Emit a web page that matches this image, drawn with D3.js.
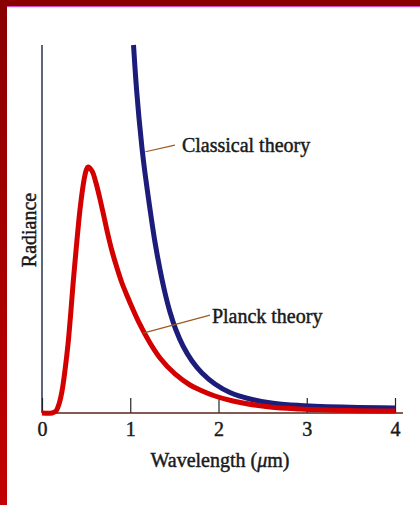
<!DOCTYPE html>
<html>
<head>
<meta charset="utf-8">
<script src="https://cdn.jsdelivr.net/npm/d3@7"></script>
<style>
  html, body { margin: 0; padding: 0; background: #fff; }
  svg { display: block; }
  text { font-family: "Liberation Serif", "Times New Roman", serif; fill: #1a1a1a; stroke: #1a1a1a; stroke-width: 0.45px; }
</style>
</head>
<body>
<svg id="chart" width="420" height="505"></svg>
<script>
// Wavelength (µm) and radiance (arbitrary units, 0–100 = axis height)
const planckX = [0, 0.113, 0.159, 0.193, 0.227, 0.261, 0.295, 0.323, 0.351, 0.385, 0.419, 0.442, 0.465, 0.487, 0.504, 0.521, 0.567, 0.612, 0.657, 0.703, 0.748, 0.793, 0.850, 0.906, 0.963, 1.031, 1.110, 1.224, 1.337, 1.507, 1.677, 1.790, 1.960, 2.164, 2.583, 2.924, 3.490, 4.0];
const planckY = [0, 0, 0.54, 2.45, 5.98, 11.68, 18.75, 26.36, 34.78, 44.02, 52.72, 57.61, 61.68, 64.67, 66.17, 66.85, 65.76, 62.5, 58.15, 53.26, 48.37, 44.02, 39.40, 35.33, 31.93, 28.13, 24.05, 19.02, 14.95, 10.60, 7.61, 6.25, 4.62, 3.26, 1.63, 1.09, 0.68, 0.54];
const classicalX = [1.037, 1.065, 1.099, 1.133, 1.167, 1.201, 1.235, 1.280, 1.337, 1.394, 1.450, 1.518, 1.598, 1.700, 1.813, 1.960, 2.130, 2.357, 2.640, 2.924, 3.490, 4.0];
const classicalY = [100, 89.95, 80.16, 72.01, 65.22, 59.24, 53.53, 46.47, 38.99, 32.61, 27.45, 22.55, 18.21, 14.13, 10.87, 7.88, 5.57, 3.80, 2.58, 2.04, 1.55, 1.36];
const xTicks = [0, 1, 2, 3, 4];
const labelNames = ["Classical theory", "Planck theory"];
// leader: start on curve (x,y), end (x,y), in data units
const leaderFromX = [1.172, 1.147];
const leaderFromY = [71.0, 21.7];
const leaderToX = [1.506, 1.903];
const leaderToY = [72.8, 26.6];
const labelX = [1.585, 1.925];
const labelY = [70.9, 24.5];

const svg = d3.select("#chart");
const W = 420, H = 505;

// frame
const defs = svg.append("defs");
const grad = defs.append("linearGradient").attr("id", "lb").attr("x1", 0).attr("y1", 0).attr("x2", 0).attr("y2", 1);
grad.append("stop").attr("offset", "0%").attr("stop-color", "#880000");
grad.append("stop").attr("offset", "100%").attr("stop-color", "#c40000");
svg.append("rect").attr("x", 0).attr("y", 0).attr("width", W).attr("height", H).attr("fill", "#fff");
svg.append("rect").attr("x", 0).attr("y", 0).attr("width", W).attr("height", 6).attr("fill", "#8a0000");
svg.append("rect").attr("x", 7).attr("y", 6).attr("width", W - 7).attr("height", 1.2).attr("fill", "#d050c8");
svg.append("rect").attr("x", 0).attr("y", 0).attr("width", 7).attr("height", H).attr("fill", "url(#lb)");

const x = d3.scaleLinear().domain([0, 4]).range([42, 395]);
const y = d3.scaleLinear().domain([0, 100]).range([413, 45]);

// x axis ticks and labels
const xAxis = d3.axisBottom(x).tickValues(xTicks).tickFormat(d3.format("d")).tickSize(-15).tickPadding(9);
const gx = svg.append("g").attr("transform", `translate(0,${y(0)})`).call(xAxis);
gx.select(".domain").remove();
gx.selectAll(".tick line").attr("stroke", "#2a2222").attr("stroke-width", 1.2);
gx.selectAll(".tick text").attr("font-size", 20).attr("font-family", "Liberation Serif, serif").attr("fill", "#1a1a1a");

// curves
const line = d3.line().x(d => x(d[0])).y(d => y(d[1])).curve(d3.curveCatmullRom.alpha(0.5));
const planck = planckX.map((v, i) => [v, planckY[i]]);
const classical = classicalX.map((v, i) => [v, classicalY[i]]);

// axis lines
svg.append("line").attr("x1", x(0)).attr("x2", x(4.09)).attr("y1", y(0)).attr("y2", y(0))
  .attr("stroke", "#5a2418").attr("stroke-width", 1.6);
svg.append("line").attr("x1", x(0)).attr("x2", x(0)).attr("y1", y(0)).attr("y2", y(100))
  .attr("stroke", "#1c2440").attr("stroke-width", 1.4);

svg.append("path").datum(classical).attr("d", line).attr("fill", "none")
  .attr("stroke", "#1c1c7a").attr("stroke-width", 5);
svg.append("path").datum(planck).attr("d", line).attr("fill", "none")
  .attr("stroke", "#d40000").attr("stroke-width", 5).attr("stroke-linejoin", "round");

// leaders and labels
labelNames.forEach((name, i) => {
  svg.append("line")
    .attr("x1", x(leaderFromX[i])).attr("y1", y(leaderFromY[i]))
    .attr("x2", x(leaderToX[i])).attr("y2", y(leaderToY[i]))
    .attr("stroke", "#9a5a20").attr("stroke-width", 1.2);
  svg.append("text").attr("x", x(labelX[i])).attr("y", y(labelY[i]))
    .attr("font-size", 20).text(name);
});

// axis titles
const xt = svg.append("text").attr("x", 220).attr("y", 467).attr("text-anchor", "middle").attr("font-size", 20);
xt.append("tspan").text("Wavelength (");
xt.append("tspan").attr("font-style", "italic").text("\u03bc");
xt.append("tspan").text("m)");

svg.append("text").attr("transform", "translate(36,230) rotate(-90)")
  .attr("text-anchor", "middle").attr("font-size", 20).text("Radiance");
</script>
</body>
</html>
